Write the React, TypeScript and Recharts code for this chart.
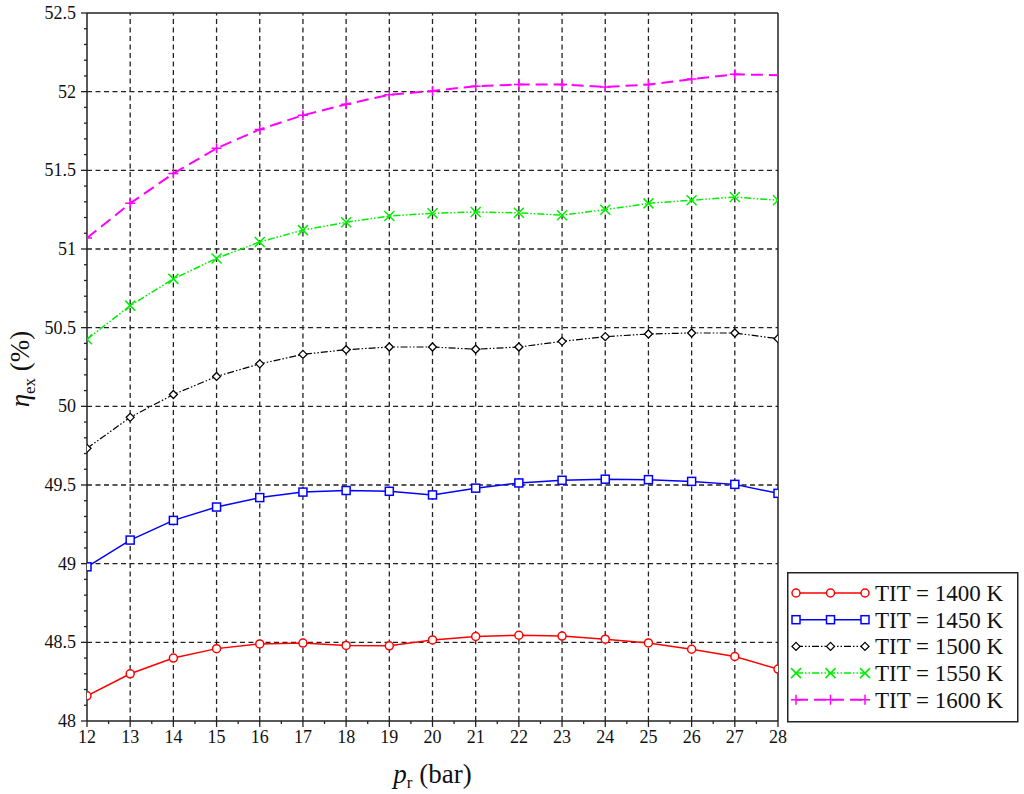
import { LineChart, Line, XAxis, YAxis, ReferenceLine, Legend } from "recharts";

const pressureRatio = [12, 13, 14, 15, 16, 17, 18, 19, 20, 21, 22, 23, 24, 25, 26, 27, 28];

const tit1400 = [48.16, 48.3, 48.4, 48.46, 48.49, 48.495, 48.48, 48.478, 48.515, 48.537, 48.545, 48.54, 48.52, 48.496, 48.456, 48.41, 48.33];
const tit1450 = [48.98, 49.15, 49.275, 49.36, 49.42, 49.455, 49.465, 49.46, 49.437, 49.48, 49.513, 49.53, 49.537, 49.534, 49.523, 49.504, 49.447];
const tit1500 = [49.733, 49.93, 50.075, 50.19, 50.27, 50.33, 50.36, 50.377, 50.377, 50.363, 50.377, 50.413, 50.443, 50.46, 50.466, 50.466, 50.43];
const tit1550 = [50.426, 50.64, 50.81, 50.94, 51.045, 51.12, 51.17, 51.21, 51.227, 51.235, 51.23, 51.215, 51.25, 51.29, 51.31, 51.33, 51.31];
const tit1600 = [51.07, 51.29, 51.48, 51.64, 51.76, 51.85, 51.92, 51.98, 52.005, 52.035, 52.045, 52.045, 52.03, 52.045, 52.08, 52.11, 52.105];

const xMajorTicks = [12, 13, 14, 15, 16, 17, 18, 19, 20, 21, 22, 23, 24, 25, 26, 27, 28];
const yMajorTicks = [48, 48.5, 49, 49.5, 50, 50.5, 51, 51.5, 52, 52.5];

// minor ticks: halves on x, tenths on y
const xTicks = Array.from({ length: 33 }, (_, i) => 12 + i * 0.5);
const yTicks = Array.from({ length: 46 }, (_, i) => +(48 + i * 0.1).toFixed(1));

const FONT = "'Liberation Serif', 'DejaVu Serif', serif";
const AXIS = "#222";

const series = [
  { key: "t1400", name: "TIT = 1400 K", values: tit1400, color: "#ff0000", marker: "circle", dash: undefined, width: 1.5 },
  { key: "t1450", name: "TIT = 1450 K", values: tit1450, color: "#0000ff", marker: "square", dash: undefined, width: 1.5 },
  { key: "t1500", name: "TIT = 1500 K", values: tit1500, color: "#000000", marker: "diamond", dash: "7 2 1.5 2 1.5 2", width: 1.2 },
  { key: "t1550", name: "TIT = 1550 K", values: tit1550, color: "#00ee00", marker: "cross", dash: "7 2 1.5 2 1.5 2", width: 1.5 },
  { key: "t1600", name: "TIT = 1600 K", values: tit1600, color: "#ff00ff", marker: "plus", dash: "12 6", width: 2 },
];

const data = pressureRatio.map((p, i) => {
  const row: Record<string, number> = { p };
  series.forEach((s) => (row[s.key] = s.values[i]));
  return row;
});

function marker(kind: string, cx: number, cy: number, color: string, key?: string | number) {
  if (kind === "circle")
    return <circle key={key} cx={cx} cy={cy} r={4} fill="#fff" stroke={color} strokeWidth={1.5} />;
  if (kind === "square")
    return <rect key={key} x={cx - 4} y={cy - 4} width={8} height={8} fill="#fff" stroke={color} strokeWidth={1.5} />;
  if (kind === "diamond")
    return (
      <path key={key} d={`M${cx},${cy - 4}L${cx + 4},${cy}L${cx},${cy + 4}L${cx - 4},${cy}Z`} fill="#fff" stroke={color} strokeWidth={1.3} />
    );
  if (kind === "cross")
    return (
      <path key={key} d={`M${cx - 5},${cy - 5}L${cx + 5},${cy + 5}M${cx - 5},${cy + 5}L${cx + 5},${cy - 5}`} stroke={color} strokeWidth={1.5} fill="none" />
    );
  return (
    <path key={key} d={`M${cx - 5},${cy}L${cx + 5},${cy}M${cx},${cy - 5}L${cx},${cy + 5}`} stroke={color} strokeWidth={1.5} fill="none" />
  );
}

const isMajor = (v: number, step: number) => Math.abs(v / step - Math.round(v / step)) < 1e-6;

function XTick(props: any) {
  const { x, y, payload } = props;
  const v = payload.value;
  const major = isMajor(v, 1);
  return (
    <g>
      <line x1={x} x2={x} y1={y} y2={y + (major ? 6 : 3)} stroke={AXIS} strokeWidth={1.3} />
      {major && (
        <text x={x} y={y + 22} textAnchor="middle" fontFamily={FONT} fontSize={18} fill="#111">
          {v}
        </text>
      )}
    </g>
  );
}

function YTick(props: any) {
  const { x, y, payload } = props;
  const v = payload.value;
  const major = isMajor(v, 0.5);
  return (
    <g>
      <line x1={x - (major ? 6 : 3)} x2={x} y1={y} y2={y} stroke={AXIS} strokeWidth={1.3} />
      {major && (
        <text x={x - 11} y={y + 6} textAnchor="end" fontFamily={FONT} fontSize={18} fill="#111">
          {Number.isInteger(v) ? v : v.toFixed(1)}
        </text>
      )}
    </g>
  );
}

function XTitle(props: any) {
  const { x, width, y } = props.viewBox;
  return (
    <text x={x + width / 2} y={y + 62} textAnchor="middle" fontFamily={FONT} fontSize={27} fill="#111">
      <tspan fontStyle="italic">p</tspan>
      <tspan fontSize={17} dy={5}>r</tspan>
      <tspan dy={-5}> (bar)</tspan>
    </text>
  );
}

function YTitle(props: any) {
  const { y, height } = props.viewBox;
  const cx = 29;
  const cy = y + height / 2 + 2;
  return (
    <text x={cx} y={cy} transform={`rotate(-90, ${cx}, ${cy})`} textAnchor="middle" fontFamily={FONT} fontSize={27} fill="#111">
      <tspan fontStyle="italic">η</tspan>
      <tspan fontSize={17} dy={6}>ex</tspan>
      <tspan dy={-6}> (%)</tspan>
    </text>
  );
}

function LegendBox() {
  const rowY = (i: number) => 21 + i * 26.7;
  return (
    <svg width={232} height={151} style={{ display: "block" }}>
      <rect x={0.75} y={0.75} width={230} height={149} fill="#fff" stroke="#222" strokeWidth={1.5} />
      {series.map((s, i) => (
        <g key={s.key}>
          <line x1={9} x2={78} y1={rowY(i)} y2={rowY(i)} stroke={s.color} strokeWidth={s.width} strokeDasharray={s.dash} />
          {[9, 43.5, 78].map((mx, j) => marker(s.marker, mx, rowY(i), s.color, j))}
          <text x={88} y={rowY(i) + 8} fontFamily={FONT} fontSize={23} fill="#111">
            {s.name}
          </text>
        </g>
      ))}
    </svg>
  );
}

export default function App() {
  return (
    <div style={{ position: "absolute", left: 0, top: 0, background: "#fff" }}>
      <LineChart width={1024} height={794} data={data} margin={{ top: 13, right: 246, bottom: 0, left: 0 }}>
        {xMajorTicks.slice(1, -1).map((v) => (
          <ReferenceLine key={`gx${v}`} x={v} stroke="#222" strokeWidth={1.3} strokeDasharray="5 3.5" />
        ))}
        {yMajorTicks.slice(1, -1).map((v) => (
          <ReferenceLine key={`gy${v}`} y={v} stroke="#222" strokeWidth={1.3} strokeDasharray="5 3.5" />
        ))}
        <ReferenceLine y={52.5} stroke={AXIS} strokeWidth={1.5} />
        <ReferenceLine x={28} stroke={AXIS} strokeWidth={1.5} />
        <XAxis
          dataKey="p"
          type="number"
          domain={[12, 28]}
          ticks={xTicks}
          interval={0}
          allowDataOverflow
          height={73}
          tickSize={0}
          tickMargin={0}
          tickLine={false}
          tick={<XTick />}
          axisLine={{ stroke: AXIS, strokeWidth: 1.5 }}
          label={<XTitle />}
        />
        <YAxis
          type="number"
          domain={[48, 52.5]}
          ticks={yTicks}
          interval={0}
          allowDataOverflow
          width={87}
          tickSize={0}
          tickMargin={0}
          tickLine={false}
          tick={<YTick />}
          axisLine={{ stroke: AXIS, strokeWidth: 1.5 }}
          label={<YTitle />}
        />
        {series.map((s) => (
          <Line
            key={s.key}
            dataKey={s.key}
            name={s.name}
            stroke={s.color}
            strokeWidth={s.width}
            strokeDasharray={s.dash}
            type="linear"
            isAnimationActive={false}
            dot={(p: any) => marker(s.marker, p.cx, p.cy, s.color, `${s.key}-${p.index}`)}
            activeDot={false}
          />
        ))}
        <Legend
          layout="vertical"
          align="center"
          verticalAlign="middle"
          content={() => <LegendBox />}
          wrapperStyle={{ left: 787, top: 572, width: 232, height: 151 }}
        />
      </LineChart>
    </div>
  );
}
